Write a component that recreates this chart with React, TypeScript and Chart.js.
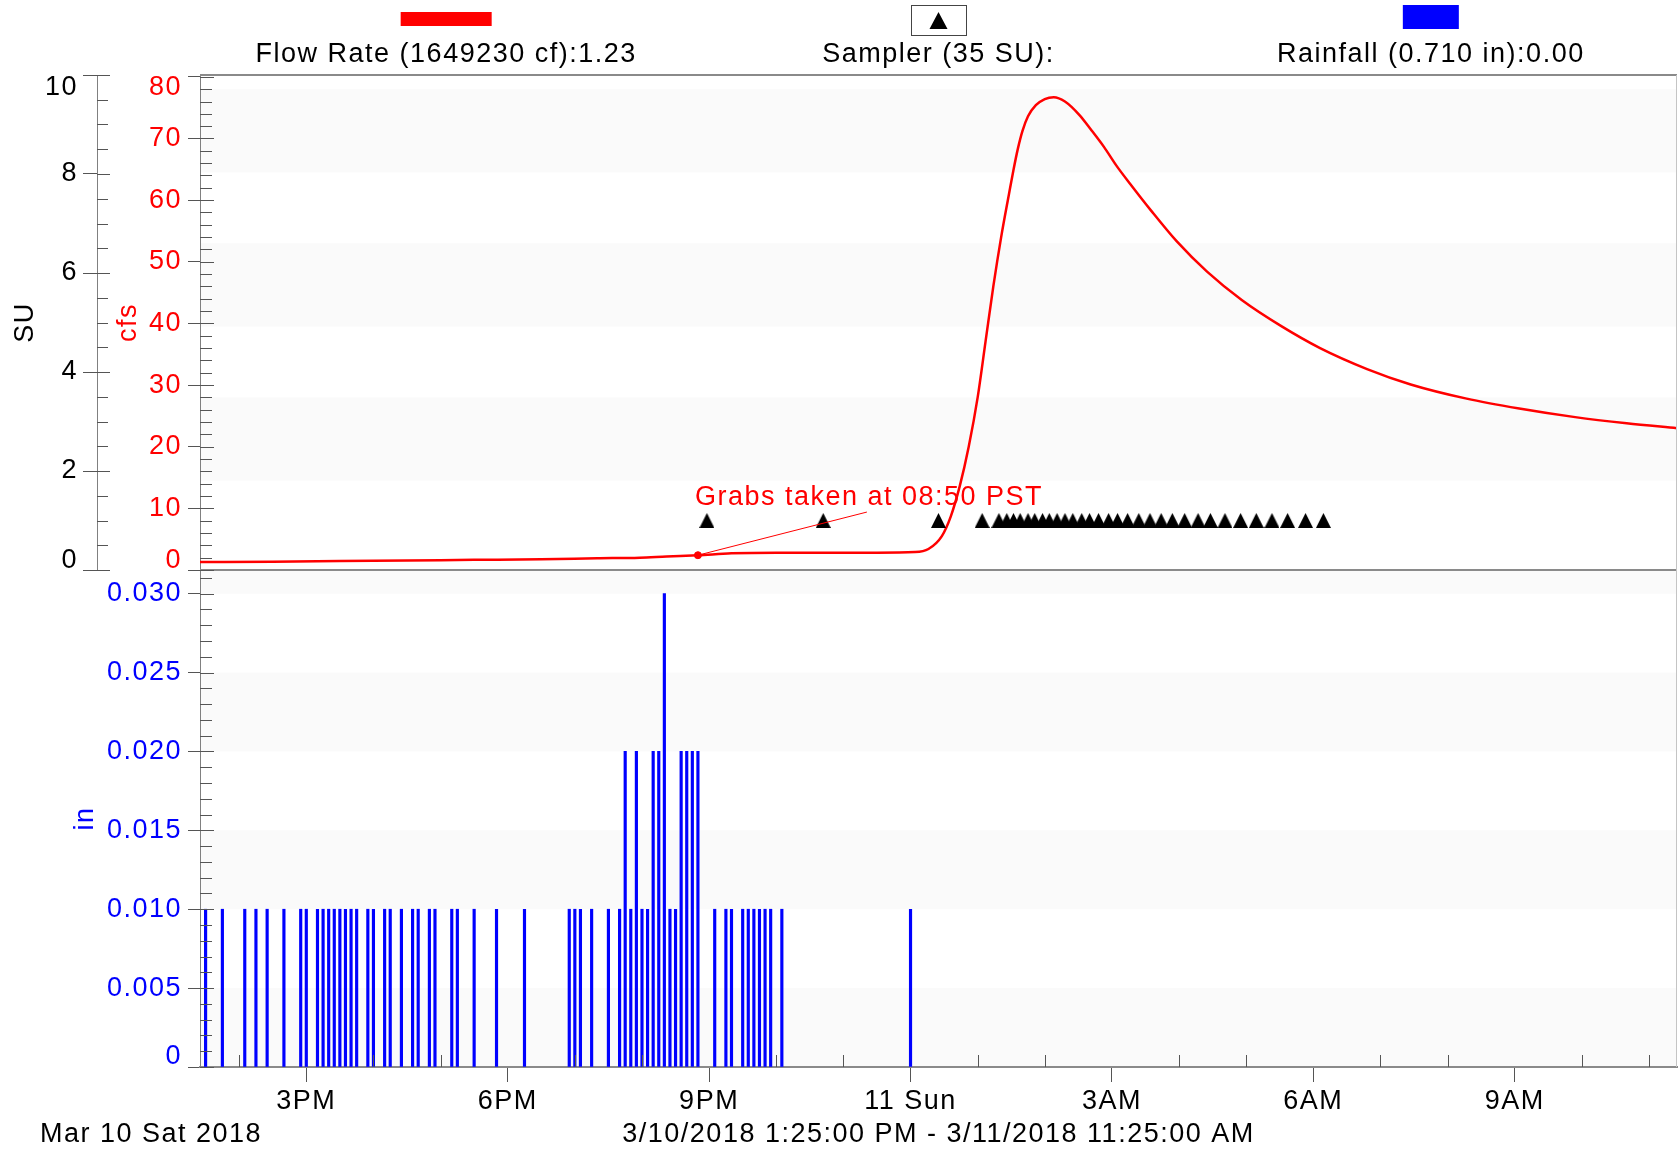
import React, { useEffect, useRef } from "react";
import { Chart, registerables } from "chart.js";

Chart.register(...registerables);

// ---------------- data ----------------
const startTime = "13:25";
const endTime = "11:25";

const flowTimes = [
  "13:25", "14:30", "15:30", "16:30", "17:30", "18:30", "19:20", "19:58", "20:22", "20:50",
  "21:20", "22:00", "22:40", "23:30", "00:04", "00:16", "00:28", "00:36", "00:44", "00:52",
  "01:00", "01:07", "01:14", "01:21", "01:28", "01:32", "01:36", "01:40", "01:45", "01:52",
  "02:00", "02:08", "02:18", "02:31", "02:41", "02:53", "03:04", "03:16", "03:35", "03:58",
  "04:25", "04:56", "05:31", "06:06", "06:48", "07:27", "08:17", "09:04", "09:54", "10:40",
  "11:25",
];
const flowValues = [
  1.3, 1.35, 1.45, 1.55, 1.65, 1.75, 1.9, 2.0, 2.2, 2.4,
  2.7, 2.8, 2.8, 2.8, 2.9, 3.4, 5.5, 8.7, 13.6, 20,
  28, 37, 46, 54, 61, 64.9, 68.4, 71.2, 73.6, 75.4,
  76.4, 76.7, 76.0, 73.8, 71.5, 68.6, 65.6, 62.7, 58.3, 53.3,
  48.4, 43.8, 39.6, 36.0, 32.6, 30.1, 27.8, 26.2, 24.8, 23.8,
  23.0,
];

const rainTimes = [
  "13:30", "13:45", "14:05", "14:15", "14:25", "14:40", "14:55", "15:00", "15:10", "15:15",
  "15:20", "15:25", "15:30", "15:35", "15:40", "15:45", "15:55", "16:00", "16:10", "16:15",
  "16:25", "16:35", "16:40", "16:50", "16:55", "17:10", "17:15", "17:30", "17:50", "18:15",
  "18:55", "19:00", "19:05", "19:15", "19:30", "19:40", "19:45", "19:50", "19:55", "20:00",
  "20:05", "20:10", "20:15", "20:20", "20:25", "20:30", "20:35", "20:40", "20:45", "20:50",
  "21:05", "21:15", "21:20", "21:30", "21:35", "21:40", "21:45", "21:50", "21:55", "22:05",
  "00:00",
];
const rainValues = [
  0.01, 0.01, 0.01, 0.01, 0.01, 0.01, 0.01, 0.01, 0.01, 0.01,
  0.01, 0.01, 0.01, 0.01, 0.01, 0.01, 0.01, 0.01, 0.01, 0.01,
  0.01, 0.01, 0.01, 0.01, 0.01, 0.01, 0.01, 0.01, 0.01, 0.01,
  0.01, 0.01, 0.01, 0.01, 0.01, 0.01, 0.02, 0.01, 0.02, 0.01,
  0.01, 0.02, 0.02, 0.03, 0.01, 0.01, 0.02, 0.02, 0.02, 0.02,
  0.01, 0.01, 0.01, 0.01, 0.01, 0.01, 0.01, 0.01, 0.01, 0.01,
  0.01,
];

const samplerTimes = [
  "20:58", "22:42", "00:25", "01:04", "01:19", "01:26", "01:32", "01:38", "01:45", "01:51",
  "01:58", "02:04", "02:11", "02:18", "02:25", "02:33", "02:40", "02:48", "02:57", "03:05",
  "03:14", "03:24", "03:34", "03:44", "03:54", "04:05", "04:17", "04:28", "04:41", "04:55",
  "05:09", "05:23", "05:37", "05:53", "06:09",
];
const samplerValues = [
  1, 1, 1, 1, 1, 1, 1, 1, 1, 1,
  1, 1, 1, 1, 1, 1, 1, 1, 1, 1,
  1, 1, 1, 1, 1, 1, 1, 1, 1, 1,
  1, 1, 1, 1, 1,
];

const suTicks = [0, 2, 4, 6, 8, 10];
const cfsTicks = [0, 10, 20, 30, 40, 50, 60, 70, 80];
const rainTicks = [0, 0.005, 0.01, 0.015, 0.02, 0.025, 0.03];
const rainTickLabels = ["0", "0.005", "0.010", "0.015", "0.020", "0.025", "0.030"];
const xTickTimes = ["15:00", "18:00", "21:00", "00:00", "03:00", "06:00", "09:00"];
const xTickLabels = ["3PM", "6PM", "9PM", "11 Sun", "3AM", "6AM", "9AM"];

const legendLabels = ["Flow Rate (1649230 cf):1.23", "Sampler (35 SU):", "Rainfall (0.710 in):0.00"];
const dateLabel = "Mar 10 Sat 2018";
const rangeLabel = "3/10/2018 1:25:00 PM - 3/11/2018 11:25:00 AM";
const grabNote = "Grabs taken at 08:50 PST";
const grabTime = "20:50";
const grabNoteCfs = 11.8;
const grabLineEndTime = "23:21";
const grabLineEndCfs = 9.4;

const topBands = [[14.5, 28], [39.5, 53], [64.5, 78]];
const bottomBands = [[0, 0.005], [0.01, 0.015], [0.02, 0.025], [0.03, 0.0315]];

// ---------------- helpers ----------------
const FONT_FAMILY = '"Liberation Sans", Arial, Helvetica, sans-serif';
const FS = 27;
const LETTER = "1.5px";
const RED = "#ff0000";
const BLUE = "#0000ff";

function toMin(t: string): number {
  const [h, m] = t.split(":").map(Number);
  const [sh, sm] = startTime.split(":").map(Number);
  return (h * 60 + m - (sh * 60 + sm) + 1440) % 1440;
}

function edgeTicks(fmt: (v: number, i: number) => string, color: string, shiftFirst: number, shiftLast: number, padding: number) {
  return {
    color,
    padding,
    autoSkip: false,
    callback: (value: any, index: number, ticks: any[]) => {
      const s = fmt(Number(value), index);
      const sh = index === 0 ? shiftFirst : index === ticks.length - 1 ? shiftLast : 0;
      if (!sh) return s;
      return sh < 0 ? [s, ""] : ["", s];
    },
    font: (c: any) => {
      const n = c && c.scale && c.scale.ticks ? c.scale.ticks.length : 0;
      const sh = c && c.index === 0 ? shiftFirst : c && c.index === n - 1 && n > 0 ? shiftLast : 0;
      return { family: FONT_FAMILY, size: FS, lineHeight: sh ? (Math.abs(sh) * 2) / FS : 1.2 };
    },
  };
}

function seg(ctx: any, x1: number, y1: number, x2: number, y2: number) {
  ctx.beginPath();
  ctx.moveTo(x1, y1);
  ctx.lineTo(x2, y2);
  ctx.stroke();
}

function yInnerTicks(ctx: any, scale: any, majors: number[], step: number, majorLen: number, minorLen: number) {
  const x0 = scale.right;
  const n = Math.round((scale.max - scale.min) / step) + 1;
  for (let i = 0; i <= n; i++) {
    const v = scale.min + i * step;
    if (v > scale.max + step / 100) break;
    const isMajor = majors.some((m) => Math.abs(m - v) < step / 10);
    const y = Math.round(scale.getPixelForValue(v)) + 0.5;
    seg(ctx, x0, y, x0 + (isMajor ? majorLen : minorLen), y);
  }
}

function makeTriangle(w: number, h: number) {
  const c = document.createElement("canvas");
  c.width = w;
  c.height = h;
  const t = c.getContext("2d");
  if (t) {
    t.fillStyle = "#000000";
    t.beginPath();
    t.moveTo(w / 2, 0);
    t.lineTo(w, h);
    t.lineTo(0, h);
    t.closePath();
    t.fill();
  }
  return c;
}

const decorPlugin = {
  id: "decor",
  beforeLayout(chart: any) {
    chart.ctx.letterSpacing = LETTER;
  },
  beforeDraw(chart: any) {
    const { ctx, chartArea: a, scales } = chart;
    ctx.letterSpacing = LETTER;
    ctx.save();
    ctx.fillStyle = "#ffffff";
    ctx.fillRect(0, 0, chart.width, chart.height);
    ctx.fillStyle = "#fafafa";
    const cfs = scales.cfs;
    const rin = scales.in;
    for (const [lo, hi] of topBands) {
      const y1 = cfs.getPixelForValue(hi);
      const y2 = cfs.getPixelForValue(lo);
      ctx.fillRect(a.left + 1, y1, a.right - a.left - 1, y2 - y1);
    }
    for (const [lo, hi] of bottomBands) {
      const y1 = rin.getPixelForValue(Math.min(hi, rin.max));
      const y2 = rin.getPixelForValue(lo);
      ctx.fillRect(a.left + 1, y1, a.right - a.left - 1, y2 - y1);
    }
    ctx.restore();
  },
  afterDraw(chart: any) {
    const { ctx, chartArea: a, scales } = chart;
    const cfs = scales.cfs;
    const su = scales.su;
    const rin = scales.in;
    const x = scales.x;
    ctx.save();
    ctx.letterSpacing = LETTER;

    // frame lines
    ctx.strokeStyle = "#8a8a8a";
    ctx.lineWidth = 2;
    seg(ctx, a.left, a.top, a.right, a.top);
    seg(ctx, a.left, cfs.bottom, a.right, cfs.bottom);
    ctx.strokeStyle = "#c4c4c4";
    ctx.lineWidth = 1;
    seg(ctx, a.right - 0.5, a.top, a.right - 0.5, a.bottom);

    // inner tick marks
    ctx.strokeStyle = "#555555";
    ctx.lineWidth = 1;
    yInnerTicks(ctx, su, suTicks, 0.5, 13, 11);
    yInnerTicks(ctx, cfs, cfsTicks, 2, 14, 12);
    yInnerTicks(ctx, rin, rainTicks, 0.001, 14, 12);
    const majorX = xTickTimes.map(toMin);
    const firstHour = (60 - Number(startTime.split(":")[1])) % 60;
    for (let v = firstHour; v <= x.max; v += 60) {
      if (majorX.includes(v)) continue;
      const px = Math.round(x.getPixelForValue(v)) + 0.5;
      seg(ctx, px, a.bottom, px, a.bottom - 12);
    }

    // legend
    const colW = (a.right - a.left) / 3;
    const cx = (i: number) => a.left + colW * (i + 0.5);
    ctx.fillStyle = RED;
    ctx.fillRect(cx(0) - 45.5, 12, 91, 14);
    ctx.fillStyle = "#ffffff";
    ctx.fillRect(cx(1) - 27.5, 5, 55, 30);
    ctx.strokeStyle = "#444444";
    ctx.lineWidth = 1;
    ctx.strokeRect(Math.round(cx(1) - 27.5) + 0.5, 5.5, 55, 30);
    ctx.fillStyle = "#000000";
    const tx = cx(1);
    ctx.beginPath();
    ctx.moveTo(tx, 12);
    ctx.lineTo(tx + 9, 29);
    ctx.lineTo(tx - 9, 29);
    ctx.closePath();
    ctx.fill();
    ctx.fillStyle = BLUE;
    ctx.fillRect(cx(2) - 28, 5, 56, 24);
    ctx.fillStyle = "#000000";
    ctx.font = `${FS}px ${FONT_FAMILY}`;
    ctx.textAlign = "center";
    ctx.textBaseline = "middle";
    legendLabels.forEach((t, i) => ctx.fillText(t, cx(i), 55));

    // grab annotation
    const gx = x.getPixelForValue(toMin(grabTime));
    const gy = cfs.getPixelForValue(flowValues[flowTimes.indexOf(grabTime)]);
    const ex = x.getPixelForValue(toMin(grabLineEndTime));
    const ey = cfs.getPixelForValue(grabLineEndCfs);
    ctx.strokeStyle = RED;
    ctx.lineWidth = 1;
    seg(ctx, gx, gy, ex, ey);
    ctx.fillStyle = RED;
    ctx.textAlign = "left";
    ctx.fillText(grabNote, gx - 3, cfs.getPixelForValue(grabNoteCfs));

    // date label bottom left
    ctx.fillStyle = "#000000";
    ctx.textAlign = "left";
    ctx.fillText(dateLabel, 40, 1135);
    ctx.restore();
  },
};

export default function App() {
  const ref = useRef<HTMLCanvasElement | null>(null);

  useEffect(() => {
    const canvas = ref.current;
    if (!canvas) return;
    Chart.defaults.font.family = FONT_FAMILY;
    Chart.defaults.font.size = FS;
    Chart.defaults.color = "#000000";

    const grabFlow = flowValues[flowTimes.indexOf(grabTime)];
    const triangle = makeTriangle(15, 15);

    const config: any = {
      type: "line",
      data: {
        datasets: [
          {
            label: legendLabels[0],
            type: "line",
            data: flowTimes.map((t, i) => ({ x: toMin(t), y: flowValues[i] })),
            yAxisID: "cfs",
            xAxisID: "x",
            borderColor: RED,
            borderWidth: 2.5,
            pointRadius: 0,
            fill: false,
            cubicInterpolationMode: "monotone",
            order: 1,
          },
          {
            label: "grab",
            type: "line",
            data: [{ x: toMin(grabTime), y: grabFlow }],
            yAxisID: "cfs",
            xAxisID: "x",
            showLine: false,
            pointRadius: 3.5,
            pointBackgroundColor: RED,
            pointBorderColor: RED,
            order: 0,
          },
          {
            label: legendLabels[1],
            type: "line",
            data: samplerTimes.map((t, i) => ({ x: toMin(t), y: samplerValues[i] })),
            yAxisID: "su",
            xAxisID: "x",
            showLine: false,
            pointStyle: triangle,
            pointRadius: 8,
            pointBackgroundColor: "#000000",
            pointBorderColor: "#000000",
            pointBorderWidth: 0,
            order: 0,
          },
          {
            label: legendLabels[2],
            type: "bar",
            data: rainTimes.map((t, i) => ({ x: toMin(t), y: rainValues[i] })),
            yAxisID: "in",
            xAxisID: "x",
            backgroundColor: BLUE,
            borderWidth: 0,
            barThickness: 2.5,
            order: 2,
          },
        ],
      },
      options: {
        responsive: false,
        animation: false,
        events: [],
        layout: { autoPadding: false, padding: { top: 75, right: 1, bottom: 0, left: 0 } },
        plugins: {
          legend: { display: false },
          tooltip: { enabled: false },
          title: { display: false },
        },
        scales: {
          x: {
            type: "linear",
            position: "bottom",
            min: 0,
            max: toMin(endTime),
            offset: false,
            afterBuildTicks: (s: any) => {
              s.ticks = xTickTimes.map((t) => ({ value: toMin(t) }));
            },
            afterFit: (s: any) => {
              s.height = 87;
            },
            grid: { display: true, drawOnChartArea: false, drawTicks: true, tickLength: 15, tickColor: "#555555", color: "#555555", offset: false },
            border: { display: true, color: "#8a8a8a", width: 2 },
            ticks: {
              color: "#000000",
              padding: 3,
              maxRotation: 0,
              minRotation: 0,
              autoSkip: false,
              font: { family: FONT_FAMILY, size: FS },
              callback: (_v: any, i: number) => xTickLabels[i],
            },
            title: {
              display: true,
              text: rangeLabel,
              color: "#000000",
              font: { family: FONT_FAMILY, size: FS },
              padding: { top: 0, bottom: 2.8 },
            },
          },
          su: {
            type: "linear",
            position: "left",
            stack: "outer",
            stackWeight: 495,
            weight: 4,
            min: 0,
            max: 10,
            afterBuildTicks: (s: any) => {
              s.ticks = suTicks.map((v) => ({ value: v }));
            },
            afterFit: (s: any) => {
              s.width = 97;
            },
            grid: { display: true, drawOnChartArea: false, drawTicks: true, tickLength: 14, tickColor: "#555555", color: "#555555" },
            border: { display: true, color: "#808080", width: 1 },
            ticks: edgeTicks((v) => String(v), "#000000", -9.3, 12.4, 5),
            title: { display: true, text: "SU", color: "#000000", font: { family: FONT_FAMILY, size: FS }, padding: { top: 9.4 } },
          },
          suPad: {
            type: "linear",
            position: "left",
            stack: "outer",
            stackWeight: 497,
            weight: 3,
            display: false,
            min: 0,
            max: 1,
            afterFit: (s: any) => {
              s.width = 97;
            },
          },
          cfs: {
            type: "linear",
            position: "left",
            stack: "inner",
            stackWeight: 495,
            weight: 2,
            min: 0,
            max: 80.3,
            afterBuildTicks: (s: any) => {
              s.ticks = cfsTicks.map((v) => ({ value: v }));
            },
            afterFit: (s: any) => {
              s.width = 103;
            },
            grid: { display: true, drawOnChartArea: false, drawTicks: true, tickLength: 12, tickColor: "#555555", color: "#555555" },
            border: { display: true, color: "#808080", width: 1 },
            ticks: edgeTicks((v) => String(v), RED, -9.3, 11, 6),
            title: { display: true, text: "cfs", color: RED, font: { family: FONT_FAMILY, size: FS }, padding: { top: 15.1 } },
          },
          in: {
            type: "linear",
            position: "left",
            stack: "inner",
            stackWeight: 497,
            weight: 1,
            min: 0,
            max: 0.0315,
            afterBuildTicks: (s: any) => {
              s.ticks = rainTicks.map((v) => ({ value: v }));
            },
            afterFit: (s: any) => {
              s.width = 103;
            },
            grid: { display: true, drawOnChartArea: false, drawTicks: true, tickLength: 12, tickColor: "#555555", color: "#555555" },
            border: { display: true, color: "#808080", width: 1 },
            ticks: edgeTicks((_v, i) => rainTickLabels[i], BLUE, -10.8, 0, 6),
            title: { display: true, text: "in", color: BLUE, font: { family: FONT_FAMILY, size: FS }, padding: { top: -27.4 } },
          },
        },
      },
      plugins: [decorPlugin],
    };

    const chart = new Chart(canvas, config);
    return () => {
      chart.destroy();
    };
  }, []);

  return (
    <div style={{ position: "absolute", left: 0, top: 0, width: 1678, height: 1154, background: "#ffffff" }}>
      <canvas ref={ref} width={1678} height={1154} style={{ display: "block", width: 1678, height: 1154 }} />
    </div>
  );
}
